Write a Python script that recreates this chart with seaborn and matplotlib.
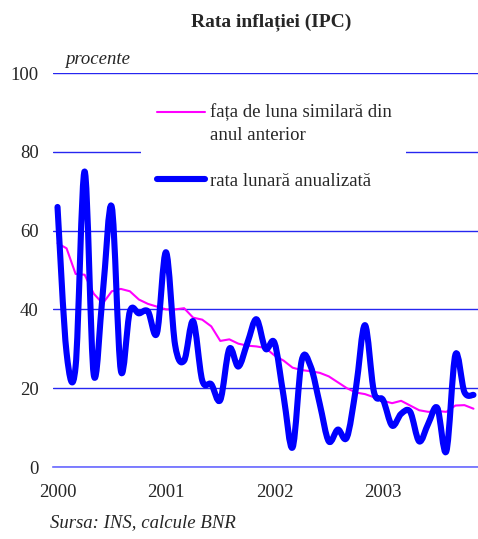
import numpy as np
import pandas as pd
import matplotlib
matplotlib.use("Agg")
import matplotlib.pyplot as plt
import seaborn as sns
from matplotlib.path import Path
from matplotlib.patches import PathPatch, Rectangle
from matplotlib.lines import Line2D
from matplotlib.legend_handler import HandlerLine2D

# ---- data (monthly, Jan 2000 - Nov 2003) ----
years = ["2000", "2001", "2002", "2003"]
yoy = [56.8, 55.5, 49.0, 48.8, 44.0, 41.5, 44.6, 45.2, 44.6, 42.5, 41.4, 40.7,
       40.0, 40.0, 40.3, 37.9, 37.4, 35.7, 32.0, 32.4, 31.3, 30.8, 30.6, 30.2,
       28.3, 27.0, 25.2, 24.6, 24.3, 23.9, 23.0, 21.5, 20.0, 18.9, 18.5, 17.7,
       16.8, 16.2, 16.8, 15.6, 14.4, 14.0, 14.2, 14.0, 15.6, 15.7, 14.8]
annualized = [66.0, 29.0, 25.5, 75.0, 23.5, 44.0, 66.0, 24.5, 39.5, 39.0, 39.5, 34.0,
              54.5, 31.0, 27.0, 37.0, 22.0, 21.0, 17.0, 30.0, 25.5, 31.5, 37.5, 30.0,
              31.5, 18.0, 5.0, 27.0, 25.5, 16.0, 6.5, 9.5, 7.5, 20.0, 36.0, 19.0,
              17.0, 10.5, 13.5, 14.0, 6.5, 11.0, 15.0, 4.0, 28.5, 19.0, 18.3]
label_yoy = "fața de luna similară din\nanul anterior"
label_ann = "rata lunară anualizată"
yticks = [0, 20, 40, 60, 80, 100]

n = len(yoy)
month_pos = np.arange(n) + 0.5
df = pd.DataFrame({"m": month_pos, "yoy": yoy, "ann": annualized})

sns.set_style("white")
plt.rcParams["font.family"] = ["Liberation Serif", "DejaVu Serif"]

fig = plt.figure(figsize=(4.78, 5.39), dpi=100)
ax = fig.add_axes([53 / 478, 1 - 467 / 539, 425 / 478, 394 / 539])

GRID = "#2626f0"
MAG = "#ff00ff"
BLUE = "#0000ff"
AXC = "#6a6aff"

ax.set_xlim(0, n)
ax.set_ylim(0, 100)
ax.set_axisbelow(True)
ax.yaxis.grid(True, color=GRID, linewidth=1.0)
ax.xaxis.grid(False)
for s in ["top", "right", "left"]:
    ax.spines[s].set_visible(False)
ax.spines["bottom"].set_color(AXC)
ax.spines["bottom"].set_linewidth(1.2)

# white legend background box (covers gridline)
ax.add_patch(Rectangle((0.207, 0.678), 0.624, 0.266, transform=ax.transAxes,
                       facecolor="white", edgecolor="none", zorder=1))

# yoy line
sns.lineplot(data=df, x="m", y="yoy", ax=ax, color=MAG, linewidth=1.5,
             zorder=3, legend=False)

# smoothed annualized line (Bezier through data points)
xs = df["m"].to_numpy()
ys = df["ann"].to_numpy()
pts = np.column_stack([xs, ys])
ext = np.vstack([pts[0], pts, pts[-1]])
verts = [tuple(pts[0])]
codes = [Path.MOVETO]
for i in range(n - 1):
    p0, p1, p2, p3 = ext[i], ext[i + 1], ext[i + 2], ext[i + 3]
    c1 = p1 + (p2 - p0) / 6.0
    c2 = p2 - (p3 - p1) / 6.0
    verts += [tuple(c1), tuple(c2), tuple(p2)]
    codes += [Path.CURVE4] * 3
patch = PathPatch(Path(verts, codes), facecolor="none", edgecolor=BLUE,
                  linewidth=4.4, capstyle="round", joinstyle="round", zorder=4)
ax.add_patch(patch)

ax.set_xlabel("")
ax.set_ylabel("")

# ticks
FS = 13.5
ax.set_yticks(yticks)
ax.set_yticklabels([str(v) for v in yticks], fontsize=FS)
ax.tick_params(axis="y", length=0, pad=10.3)
ax.set_xticks([12 * k for k in range(len(years))])
ax.set_xticklabels([])
ax.tick_params(axis="x", which="major", length=5, width=1.2, color=AXC,
               direction="out")
ax.set_xticks([12 * k + 0.5 for k in range(len(years))], minor=True)
ax.set_xticklabels(years, minor=True, fontsize=FS)
ax.tick_params(axis="x", which="minor", length=0, pad=12)


class HandlerShift(HandlerLine2D):
    def __init__(self, shift=0.0, **kw):
        super().__init__(**kw)
        self.shift = shift

    def create_artists(self, legend, orig_handle, xdescent, ydescent, width,
                       height, fontsize, trans):
        return super().create_artists(legend, orig_handle, xdescent,
                                      ydescent - 2 * self.shift, width, height,
                                      fontsize, trans)


# legend
h_yoy = Line2D([], [], color=MAG, linewidth=1.5)
h_ann = Line2D([], [], color=BLUE, linewidth=4.4, solid_capstyle="round")
LFS = 13.5
leg = ax.legend([h_yoy, h_ann], [label_yoy, label_ann], loc="upper left",
                bbox_to_anchor=(0.245, 0.922), frameon=False, fontsize=LFS,
                handlelength=2.55, handletextpad=0.27, borderpad=0,
                labelspacing=1.52, borderaxespad=0,
                handler_map={h_yoy: HandlerShift(shift=8.5)})
for t in leg.get_texts():
    t.set_linespacing(1.45)
leg.set_zorder(5)

# texts
fig.text(271 / 478, 1 - 22 / 539, "Rata inflației (IPC)", ha="center",
         va="center", fontsize=14, fontweight="bold")
fig.text(65 / 478, 1 - 59 / 539, "procente", ha="left", va="center",
         fontsize=13.5, style="italic")
fig.text(50 / 478, 1 - 523 / 539, "Sursa: INS, calcule BNR", ha="left",
         va="center", fontsize=13.5, style="italic")

fig.savefig("out.png", dpi=100)
